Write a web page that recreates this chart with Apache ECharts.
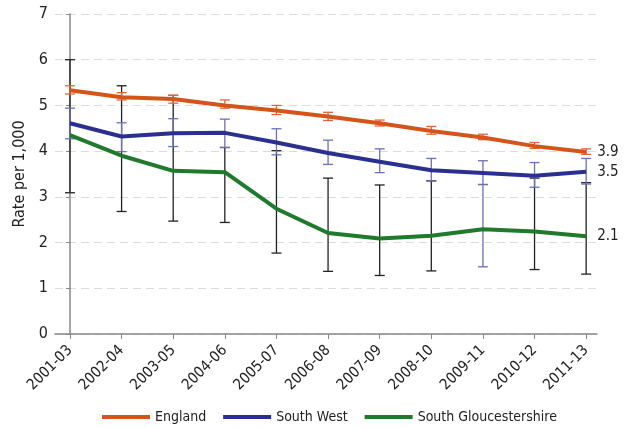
<!doctype html>
<html lang="en">
<head>
    <meta charset="UTF-8">
    <title>Rate per 1,000</title>
    <style>
        html, body { margin: 0; padding: 0; background: #fff; }
        #main { width: 635px; height: 428px; }
    </style>
</head>
<body>
<div id="main"></div>
<script type="text/javascript" src="https://cdn.jsdelivr.net/npm/echarts@6/dist/echarts.min.js"></script>
<script type="text/javascript">
    // periods on the x axis
    var categories = ['2001-03', '2002-04', '2003-05', '2004-06', '2005-07', '2006-08',
        '2007-09', '2008-10', '2009-11', '2010-12', '2011-13'];
    var yTicks = [0, 1, 2, 3, 4, 5, 6, 7];

    // England
    var england = [5.33, 5.18, 5.14, 5.00, 4.89, 4.76, 4.61, 4.44, 4.30, 4.11, 3.98];
    var englandLow = [5.25, 5.12, 5.05, 4.94, 4.80, 4.67, 4.55, 4.37, 4.25, 4.06, 3.93];
    var englandHigh = [5.43, 5.28, 5.22, 5.12, 5.00, 4.85, 4.68, 4.54, 4.37, 4.19, 4.05];

    // South West
    var southWest = [4.61, 4.32, 4.39, 4.40, 4.19, 3.96, 3.77, 3.58, 3.52, 3.46, 3.55];
    var southWestLow = [4.27, 3.99, 4.10, 4.08, 3.92, 3.71, 3.53, 3.35, 3.27, 3.21, 3.28];
    var southWestHigh = [4.94, 4.62, 4.71, 4.70, 4.49, 4.24, 4.05, 3.84, 3.79, 3.75, 3.84];

    // South Gloucestershire
    var southGlos = [4.35, 3.90, 3.57, 3.54, 2.74, 2.21, 2.09, 2.15, 2.29, 2.24, 2.14];
    var southGlosLow = [3.09, 2.68, 2.47, 2.44, 1.77, 1.37, 1.28, 1.38, 1.47, 1.41, 1.31];
    var southGlosHigh = [6.00, 5.43, 5.22, 4.08, 4.01, 3.41, 3.26, 3.35, 3.27, 3.41, 3.31];

    var endLabels = ['3.9', '3.5', '2.1'];

    var font = "'DejaVu Sans Condensed', 'Liberation Sans', sans-serif";
    var idx = categories.map(function (c, i) { return i; });

    function pts(values) {
        return values.map(function (v, i) { return [i, v]; });
    }

    function bars(low, high) {
        return low.map(function (v, i) { return [i, v, high[i]]; });
    }

    // I-beam error bars; odd is an index drawn in another colour (as in the original)
    function errorSeries(name, low, high, color, odd, oddColor) {
        return {
            type: 'custom',
            name: name + ' CI',
            z: 1,
            silent: true,
            data: bars(low, high),
            renderItem: function (params, api) {
                var top = api.coord([api.value(0), api.value(2)]);
                var bot = api.coord([api.value(0), api.value(1)]);
                var c = params.dataIndex === odd ? oddColor : color;
                var st = {stroke: c, lineWidth: 1.3};
                var w = 5;
                return {
                    type: 'group',
                    children: [
                        {type: 'line', shape: {x1: top[0], y1: top[1], x2: bot[0], y2: bot[1]}, style: st},
                        {type: 'line', shape: {x1: top[0] - w, y1: top[1], x2: top[0] + w, y2: top[1]}, style: st},
                        {type: 'line', shape: {x1: bot[0] - w, y1: bot[1], x2: bot[0] + w, y2: bot[1]}, style: st}
                    ]
                };
            }
        };
    }

    function lineSeries(name, values, color, label) {
        return {
            type: 'line',
            name: name,
            z: 3,
            data: pts(values),
            symbol: 'none',
            lineStyle: {color: color, width: 4},
            itemStyle: {color: color},
            endLabel: {
                show: true,
                distance: 11,
                formatter: function () { return label; },
                color: '#222',
                fontSize: 15,
                fontFamily: font
            }
        };
    }

    var myChart = echarts.init(document.getElementById('main'));
    var option = {
        animation: false,
        grid: {left: 55, right: 38, top: 14, bottom: 94},
        legend: {
            left: 97,
            top: 405,
            icon: 'rect',
            itemWidth: 48,
            itemHeight: 4,
            itemGap: 17,
            data: ['England', 'South West', 'South Gloucestershire'],
            textStyle: {color: '#222', fontSize: 14, fontFamily: font}
        },
        xAxis: {
            type: 'value',
            min: -0.29,
            max: 10.21,
            axisLine: {lineStyle: {color: '#888', width: 1.5}},
            axisTick: {show: true, customValues: idx, length: 5, lineStyle: {color: '#888'}},
            axisLabel: {
                customValues: idx,
                rotate: 45,
                margin: 14,
                color: '#222',
                fontSize: 15,
                fontFamily: font,
                formatter: function (v) { return categories[Math.round(v)]; }
            },
            splitLine: {show: false}
        },
        yAxis: {
            type: 'value',
            min: yTicks[0],
            max: yTicks[yTicks.length - 1],
            interval: 1,
            name: 'Rate per 1,000',
            nameLocation: 'middle',
            nameGap: 27,
            nameTextStyle: {color: '#222', fontSize: 16, fontFamily: font},
            axisLine: {show: true, lineStyle: {color: '#888', width: 1.5}},
            axisTick: {show: true, length: 4, lineStyle: {color: '#888'}},
            axisLabel: {color: '#222', fontSize: 16, margin: 7, fontFamily: font},
            splitLine: {lineStyle: {color: '#dcdcdc', type: [8, 5], width: 1}}
        },
        series: [
            errorSeries('South Gloucestershire', southGlosLow, southGlosHigh, '#222', 8, '#6c70bb'),
            errorSeries('South West', southWestLow, southWestHigh, '#6c70bb', -1, ''),
            errorSeries('England', englandLow, englandHigh, '#e0663a', -1, ''),
            lineSeries('England', england, '#d4541a', endLabels[0]),
            lineSeries('South West', southWest, '#2b3090', endLabels[1]),
            lineSeries('South Gloucestershire', southGlos, '#1f7a2c', endLabels[2])
        ]
    };
    myChart.setOption(option);
</script>
</body>
</html>
